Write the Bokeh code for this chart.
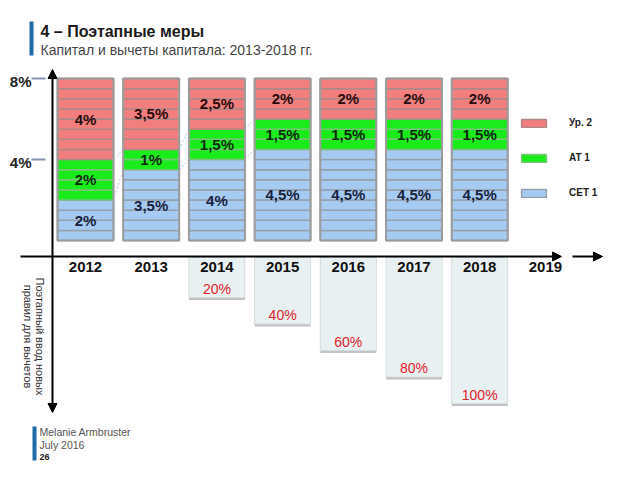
import numpy as np
from bokeh.plotting import figure
from bokeh.models import Range1d, Arrow, NormalHead, Legend, LegendItem
from bokeh.core.properties import value
from bokeh.embed import file_html
from bokeh.resources import INLINE

# ---------------- data ----------------
years = ["2012", "2013", "2014", "2015", "2016", "2017", "2018"]
axis_years = years + ["2019"]
cet1 = [2.0, 3.5, 4.0, 4.5, 4.5, 4.5, 4.5]
at1 = [2.0, 1.0, 1.5, 1.5, 1.5, 1.5, 1.5]
tier2 = [4.0, 3.5, 2.5, 2.0, 2.0, 2.0, 2.0]
y_ticks = [4, 8]
phase_years = ["2014", "2015", "2016", "2017", "2018"]
phase_pct = [20, 40, 60, 80, 100]
legend_labels = ["Ур. 2", "AT 1", "CET 1"]

FONT_NAME = "Liberation Sans"
FONT = value(FONT_NAME)
W, H = 624, 464
# canvas pixel -> data helpers (for decorations only)
X0, DX = 85.0, 65.7
Y0, DY = 240.0, 20.25
P0, DP = 270.5, 1.325
def xd(px): return (px - X0) / DX
def yd(py): return (Y0 - py) / DY
def pdd(py): return (py - P0) / DP

BW = 56 / DX

p = figure(width=W, height=H,
           x_range=Range1d(xd(0), xd(W)),
           y_range=Range1d(yd(H), yd(0)),
           output_backend="svg", toolbar_location=None,
           x_axis_location=None, y_axis_location=None,
           min_border=0, outline_line_color=None,
           background_fill_color="white", border_fill_color="white")
p.extra_y_ranges = {"phase": Range1d(pdd(H), pdd(0))}
p.grid.visible = False

def fmt(v):
    s = ("%g" % v).replace(".", ",")
    return s + "%"

# ---------------- stacked bars ----------------
idx = np.arange(len(years))
comps = [cet1, at1, tier2]
colors = ["#a6cbf3", "#1aeb1a", "#f27e7e"]
txt_colors = ["#17233d", "#0c2a0c", "#2a0c0c"]
stripe_colors = ["#96a0ab", "#7cc27c", "#b08888"]
bottoms = np.zeros(len(years))
rends = []
label_x, label_y, label_t, label_c = [], [], [], []
for vals, col, tcol, scol in zip(comps, colors, txt_colors, stripe_colors):
    xs, bs, ts = [], [], []
    for i, v in enumerate(vals):
        b = bottoms[i]
        for k in np.arange(b, b + v - 1e-9, 0.5):
            xs.append(i); bs.append(k); ts.append(k + 0.5)
        label_x.append(i); label_y.append(b + v / 2); label_t.append(fmt(v)); label_c.append(tcol)
    r = p.vbar(x=xs, width=BW, bottom=bs, top=ts, fill_color=col,
               line_color=scol, line_width=1.5)
    rends.append(r)
    bottoms = bottoms + np.array(vals)

# connectors between consecutive bars
cum1 = np.array(cet1)
cum2 = np.array(cet1) + np.array(at1)
for cum in (cum1, cum2):
    for i in range(len(years) - 1):
        if cum[i] != cum[i + 1]:
            p.segment(x0=[i + BW / 2], y0=[cum[i]], x1=[i + 1 - BW / 2], y1=[cum[i + 1]],
                      line_color="#b8c4d0", line_width=1, line_dash="2 2")

totals = bottoms
p.vbar(x=idx, width=BW, bottom=0, top=totals, fill_color=None,
       line_color="#9c9c9c", line_width=2)

p.text(x=label_x, y=label_y, text=label_t, text_color=label_c,
       text_font=FONT, text_font_size="15px", text_font_style="bold",
       text_align="center", text_baseline="middle")

# ---------------- phase-in boxes ----------------
ph_idx = [years.index(y) for y in phase_years]
ph_top = pdd(257)
p.vbar(x=ph_idx, width=BW, top=ph_top, bottom=np.array(phase_pct) + 1.8,
       fill_color="#b3b3b3", line_color=None, fill_alpha=0.8, y_range_name="phase")
p.vbar(x=ph_idx, width=BW, top=ph_top, bottom=phase_pct,
       fill_color="#e9f0f2", line_color="#d6dee1", line_width=1, y_range_name="phase")
p.text(x=ph_idx, y=phase_pct, text=[f"{v}%" for v in phase_pct], y_range_name="phase",
       text_color="#e3222c", text_font=FONT, text_font_size="14px",
       text_align="center", text_baseline="middle", y_offset=-9)

# ---------------- axes ----------------
head = dict(size=9, fill_color="black", line_color="black")
p.add_layout(Arrow(end=NormalHead(**head), x_start=xd(20), y_start=yd(256),
                   x_end=xd(561), y_end=yd(256), line_width=2, line_color="black"))
p.add_layout(Arrow(end=NormalHead(**head), x_start=xd(572), y_start=yd(256),
                   x_end=xd(602), y_end=yd(256), line_width=2, line_color="black"))
p.add_layout(Arrow(start=NormalHead(**head), end=NormalHead(**head),
                   x_start=xd(52), y_start=yd(412), x_end=xd(52), y_end=yd(69),
                   line_width=2, line_color="black"))

p.segment(x0=xd(31), x1=xd(45), y0=y_ticks, y1=y_ticks, line_color="#8494b4", line_width=2)
p.text(x=xd(31), y=y_ticks, text=[f"{t}%" for t in y_ticks], text_font=FONT,
       text_font_size="15px", text_font_style="bold", text_color="#222",
       text_align="right", text_baseline="middle", y_offset=3)

p.text(x=list(range(len(axis_years))), y=yd(266), text=axis_years, text_font=FONT,
       text_font_size="15px", text_font_style="bold", text_color="#111",
       text_align="center", text_baseline="middle")

p.text(x=[xd(33)], y=[yd(336)], text=["Поэтапный ввод новых\nправил для вычетов"],
       angle=-np.pi / 2, text_font=FONT, text_font_size="11px", text_color="#333",
       text_align="center", text_baseline="middle", text_line_height=1.0)

# ---------------- legend ----------------
legend = Legend(items=[LegendItem(label=legend_labels[0], renderers=[rends[2]]),
                       LegendItem(label=legend_labels[1], renderers=[rends[1]]),
                       LegendItem(label=legend_labels[2], renderers=[rends[0]])],
                location=(518, 266), glyph_width=31, glyph_height=10,
                label_standoff=20, spacing=24, padding=0, margin=0,
                border_line_color=None, background_fill_alpha=0,
                label_text_font=FONT_NAME, label_text_font_size="10px",
                label_text_font_style="bold", label_text_color="#222",
                label_height=10)
p.add_layout(legend)

# ---------------- title & footer ----------------
p.segment(x0=[xd(31)], x1=[xd(31)], y0=[yd(21)], y1=[yd(55)], line_color="#1d6aa5", line_width=4)
p.text(x=[xd(40)], y=[yd(31)], text=["4 – Поэтапные меры"], text_font=FONT,
       text_font_size="16px", text_font_style="bold", text_color="#1a1a1a",
       text_align="left", text_baseline="middle")
p.text(x=[xd(40)], y=[yd(49)], text=["Капитал и вычеты капитала: 2013-2018 гг."], text_font=FONT,
       text_font_size="14px", text_color="#444", text_align="left", text_baseline="middle")

p.segment(x0=[xd(34)], x1=[xd(34)], y0=[yd(426)], y1=[yd(460)], line_color="#1d6aa5", line_width=4)
p.text(x=[xd(39)] * 2, y=[yd(431), yd(444)], text=["Melanie Armbruster", "July 2016"], text_font=FONT,
       text_font_size="10.5px", text_color="#555", text_align="left", text_baseline="middle")
p.text(x=[xd(39)], y=[yd(456)], text=["26"], text_font=FONT, text_font_size="9px",
       text_font_style="bold", text_color="#222", text_align="left", text_baseline="middle")

open("out.html", "w").write(file_html(p, INLINE))
